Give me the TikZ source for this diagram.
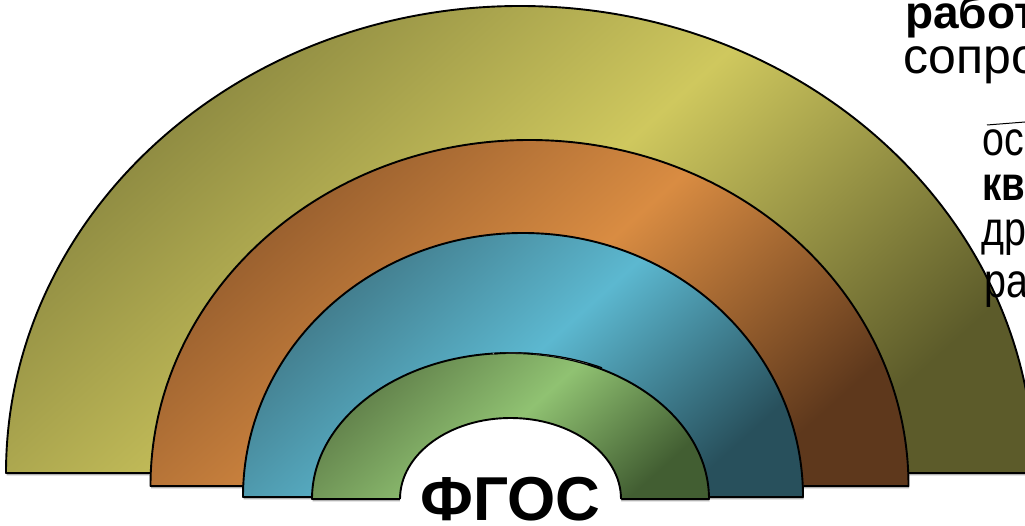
\documentclass[tikz,border=0pt]{standalone}
\usepackage{fontspec}
\setmainfont{Liberation Sans}
\definecolor{olTop}{HTML}{86833E}
\definecolor{olMid}{HTML}{CFC85E}
\definecolor{olBot}{HTML}{5C5B2A}
\definecolor{orTop}{HTML}{915A2C}
\definecolor{orMid}{HTML}{D98C42}
\definecolor{orBot}{HTML}{5E381C}
\definecolor{blTop}{HTML}{3F7584}
\definecolor{blMid}{HTML}{5CB8D0}
\definecolor{blBot}{HTML}{28505C}
\definecolor{grTop}{HTML}{5E7C48}
\definecolor{grMid}{HTML}{90C272}
\definecolor{grBot}{HTML}{425E32}
\begin{document}
\begin{tikzpicture}[x=1pt,y=1pt,
  ring/.style={draw=black, line width=1.9pt, line join=round},
  shadowfill/.style={fill=black!30, draw=none},
  edge/.style={draw=black, line width=1.9pt},
  txt/.style={inner sep=0pt, anchor=base west, text=black},
  boldtxt/.style={txt, font=\bfseries\fontsize{46}{46}\selectfont},
  regtxt/.style={txt, font=\fontsize{50}{50}\selectfont},
  narrowtxt/.style={txt, font=\fontsize{48}{48}\selectfont},
  narrowbold/.style={txt, font=\bfseries\fontsize{48}{48}\selectfont}]
\useasboundingbox (0,0) rectangle (1025,525);
\clip (0,0) rectangle (1025,525);

% rings (half ellipses), drawn from the outermost inwards
\foreach \cx/\cy/\a/\b/\ct/\cm/\cb in {
   520/52/514/467/olTop/olMid/olBot,
   529.5/39/379/346/orTop/orMid/orBot,
   523/28/280/264/blTop/blMid/blBot,
   510.5/26/198.5/146/grTop/grMid/grBot}{
  \fill[shadowfill] ({\cx-\a+0.5},{\cy-2.4}) arc[start angle=180,end angle=0,x radius=\a,y radius=\b] -- cycle;
  \shade[ring, top color=\ct, bottom color=\cb, middle color=\cm, shading angle=42]
    ({\cx-\a},\cy) arc[start angle=180,end angle=0,x radius=\a,y radius=\b] -- cycle;
}

% slightly offset duplicate edge on top of the green ring
\draw[white!80!black, line width=0.6pt] (513.5,26) ++(68:198.5 and 146) arc[start angle=68,end angle=96,x radius=198.5,y radius=146];
\draw[black, line width=1.2pt] (515,26) ++(64:198.5 and 146) arc[start angle=64,end angle=96,x radius=198.5,y radius=146];

% central hole
\fill[white] (400,18) -- (400,26) arc[start angle=180,end angle=0,x radius=110.5,y radius=81] -- (621,18) -- cycle;
\draw[edge] (400,26) arc[start angle=180,end angle=0,x radius=110.5,y radius=81];

\node[inner sep=0pt, anchor=base, font=\bfseries\fontsize{62}{62}\selectfont] (fgos) at (510.5,5) {ФГОС};

% text cut by the right border
\node[boldtxt] (t1) at (905,496) {работ};
\node[regtxt] (t2) at (903,451) {сопро};
\coordinate (ol1) at (987,400);
\coordinate (ol2) at (1025,403);
\draw[black, line width=1pt] (ol1) -- (ol2);
\node[narrowtxt] (t3) at (982,369) {\scalebox{0.82}[1]{ос}};
\node[narrowbold] (t4) at (982,324) {\scalebox{0.8}[1]{кв}};
\node[narrowtxt] (t5) at (981,279) {\scalebox{0.82}[1]{др}};
\node[narrowtxt] (t6) at (984,227) {\scalebox{0.82}[1]{ра}};
\end{tikzpicture}
\end{document}
